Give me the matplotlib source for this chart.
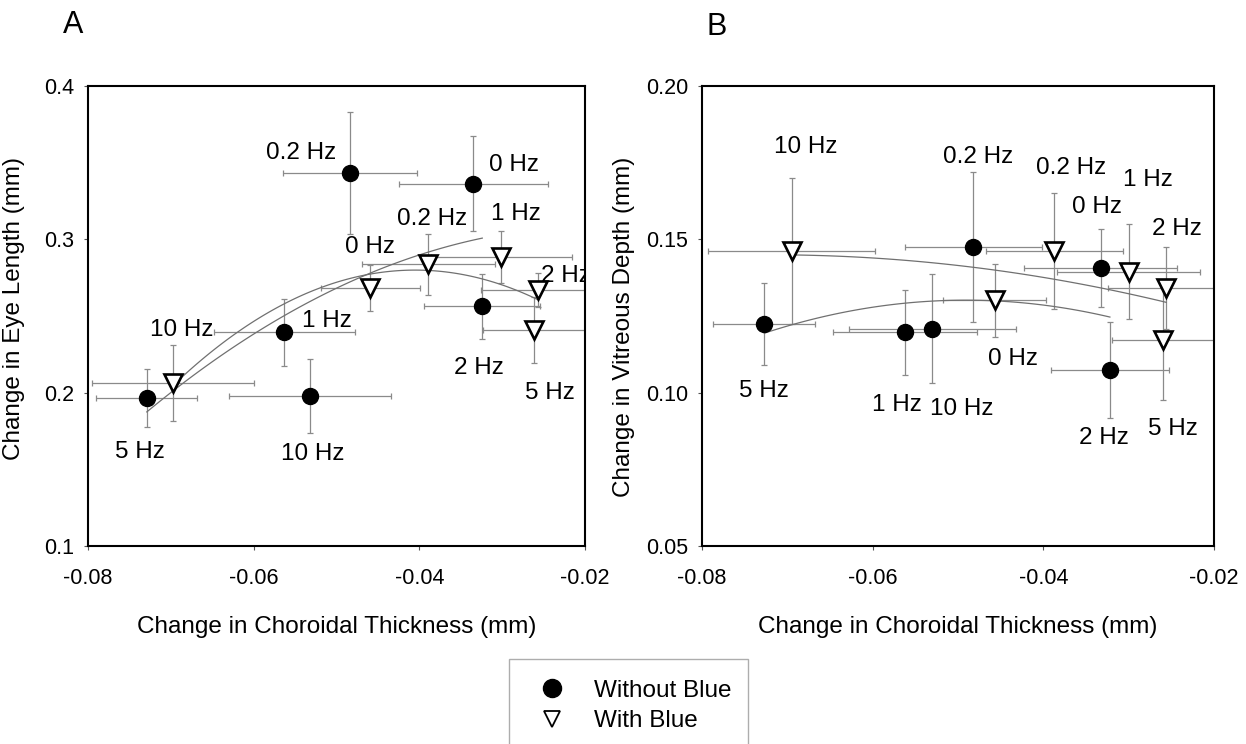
import numpy as np
import matplotlib
matplotlib.use("Agg")
import matplotlib.pyplot as plt
from matplotlib.lines import Line2D

plt.rcParams['font.family'] = ['Liberation Sans', 'DejaVu Sans']

freqs = ["0 Hz", "0.2 Hz", "1 Hz", "2 Hz", "5 Hz", "10 Hz"]

# --- panel A: eye length vs choroidal thickness ---
a_nb_x = [-0.0335, -0.0484, -0.0563, -0.0324, -0.0729, -0.0532]
a_nb_y = [0.3364, 0.3433, 0.2394, 0.2562, 0.1963, 0.1980]
a_nb_xerr = [0.0090, 0.0081, 0.0085, 0.0070, 0.0061, 0.0098]
a_nb_yerr = [0.031, 0.040, 0.022, 0.021, 0.019, 0.024]

a_wb_x = [-0.0459, -0.0389, -0.0301, -0.0257, -0.0261, -0.0697]
a_wb_y = [0.2682, 0.2837, 0.2885, 0.2671, 0.2410, 0.2063]
a_wb_xerr = [0.0060, 0.0080, 0.0085, 0.0069, 0.0062, 0.0098]
a_wb_yerr = [0.015, 0.020, 0.017, 0.011, 0.0215, 0.025]

# label positions (data coords)
a_nb_lx = [-0.0286, -0.0543, -0.0512, -0.0328, -0.0737, -0.0529]
a_nb_ly = [0.3488, 0.3564, 0.2466, 0.2161, 0.1610, 0.1599]
a_wb_lx = [-0.0459, -0.0384, -0.0283, -0.0223, -0.0242, -0.0687]
a_wb_ly = [0.2950, 0.3135, 0.3168, 0.2758, 0.1998, 0.2410]

# --- panel B: vitreous depth vs choroidal thickness ---
b_nb_x = [-0.0333, -0.0482, -0.0562, -0.0322, -0.0727, -0.0530]
b_nb_y = [0.1407, 0.1475, 0.1197, 0.1075, 0.1224, 0.1208]
b_nb_xerr = [0.0090, 0.0080, 0.0084, 0.0069, 0.0060, 0.0098]
b_nb_yerr = [0.0128, 0.0243, 0.0138, 0.0157, 0.0135, 0.0178]

b_wb_x = [-0.0457, -0.0387, -0.0300, -0.0256, -0.0260, -0.0695]
b_wb_y = [0.1301, 0.1461, 0.1395, 0.1342, 0.1173, 0.1461]
b_wb_xerr = [0.0060, 0.0080, 0.0084, 0.0068, 0.0060, 0.0098]
b_wb_yerr = [0.0120, 0.0189, 0.0154, 0.0134, 0.0196, 0.0238]

b_nb_lx = [-0.0337, -0.0476, -0.0571, -0.0329, -0.0727, -0.0496]
b_nb_ly = [0.1606, 0.1767, 0.0961, 0.0852, 0.1007, 0.0947]
b_wb_lx = [-0.0435, -0.0368, -0.0277, -0.0244, -0.0248, -0.0679]
b_wb_ly = [0.1110, 0.1734, 0.1693, 0.1533, 0.0881, 0.1802]

W, H = 1246, 744
fig = plt.figure(figsize=(W / 100, H / 100), dpi=100)
axA = fig.add_axes([88 / W, 1 - 546 / H, 497 / W, 460 / H])
axB = fig.add_axes([702 / W, 1 - 546 / H, 512 / W, 460 / H])

errgrey = '#8a8a8a'
linegrey = '#707070'
fs = 17.5


def panel(ax, nbx, nby, nbxe, nbye, wbx, wby, wbxe, wbye, nblx, nbly, wblx, wbly):
    # quadratic trend lines over the x-range of each group
    for xs, ys in [(nbx, nby), (wbx, wby)]:
        p = np.poly1d(np.polyfit(xs, ys, 2))
        fx = np.linspace(min(xs), max(xs), 100)
        ax.plot(fx, p(fx), color=linegrey, lw=0.9, zorder=2)
    ax.errorbar(nbx, nby, xerr=nbxe, yerr=nbye, fmt='none', ecolor=errgrey,
                elinewidth=0.9, capsize=2, capthick=0.9, zorder=1)
    ax.errorbar(wbx, wby, xerr=wbxe, yerr=wbye, fmt='none', ecolor=errgrey,
                elinewidth=0.9, capsize=2, capthick=0.9, zorder=1)
    ax.plot(nbx, nby, 'o', color='black', ms=11.5, zorder=4)
    ax.plot(wbx, wby, 'v', mfc='white', mec='black', mew=1.9, ms=13, zorder=4)
    for i, f in enumerate(freqs):
        ax.text(nblx[i], nbly[i], f, fontsize=fs, ha='center', va='center', zorder=5)
        ax.text(wblx[i], wbly[i], f, fontsize=fs, ha='center', va='center',
                zorder=5, clip_on=True)
    ax.set_xlim(-0.08, -0.02)
    ax.set_xticks([-0.08, -0.06, -0.04, -0.02])
    ax.set_xticklabels(["-0.08", "-0.06", "-0.04", "-0.02"])
    for s in ax.spines.values():
        s.set_linewidth(1.5)
    ax.tick_params(direction='out', length=3, width=0.8, color='#555555',
                   labelsize=15.5)
    ax.tick_params(axis='x', pad=13)
    ax.tick_params(axis='y', pad=7)
    ax.set_xlabel("Change in Choroidal Thickness (mm)", fontsize=fs, labelpad=19)


panel(axA, a_nb_x, a_nb_y, a_nb_xerr, a_nb_yerr, a_wb_x, a_wb_y, a_wb_xerr, a_wb_yerr,
      a_nb_lx, a_nb_ly, a_wb_lx, a_wb_ly)
axA.set_ylim(0.1, 0.4)
axA.set_yticks([0.1, 0.2, 0.3, 0.4])
axA.set_yticklabels(["0.1", "0.2", "0.3", "0.4"])
axA.set_ylabel("Change in Eye Length (mm)", fontsize=fs)
axA.yaxis.set_label_coords(-(88 - 25) / 497, (546 - 308) / 460)

panel(axB, b_nb_x, b_nb_y, b_nb_xerr, b_nb_yerr, b_wb_x, b_wb_y, b_wb_xerr, b_wb_yerr,
      b_nb_lx, b_nb_ly, b_wb_lx, b_wb_ly)
axB.set_ylim(0.05, 0.20)
axB.set_yticks([0.05, 0.10, 0.15, 0.20])
axB.set_yticklabels(["0.05", "0.10", "0.15", "0.20"])
axB.set_ylabel("Change in Vitreous Depth (mm)", fontsize=fs)
axB.yaxis.set_label_coords(-(702 - 635) / 512, (546 - 327) / 460)

fig.text(73 / W, 1 - 25 / H, "A", fontsize=22, ha='center', va='center')
fig.text(717 / W, 1 - 27 / H, "B", fontsize=22, ha='center', va='center')

handles = [Line2D([], [], ls='none', marker='o', color='black', ms=13),
           Line2D([], [], ls='none', marker='v', mfc='white', mec='black', mew=1.3, ms=12)]
leg = fig.legend(handles, ["Without Blue", "With Blue"], loc='upper left',
                 bbox_to_anchor=(509 / W, 1 - 659 / H - 0.01, 239 / W, 0.01), mode='expand',
                 fontsize=fs, frameon=True, fancybox=False, borderpad=0.85,
                 handlelength=1.8, handletextpad=0.85, labelspacing=0.35,
                 borderaxespad=0)
leg.get_frame().set_edgecolor('#999999')
leg.get_frame().set_linewidth(1.0)

fig.savefig("out.png", dpi=100)
